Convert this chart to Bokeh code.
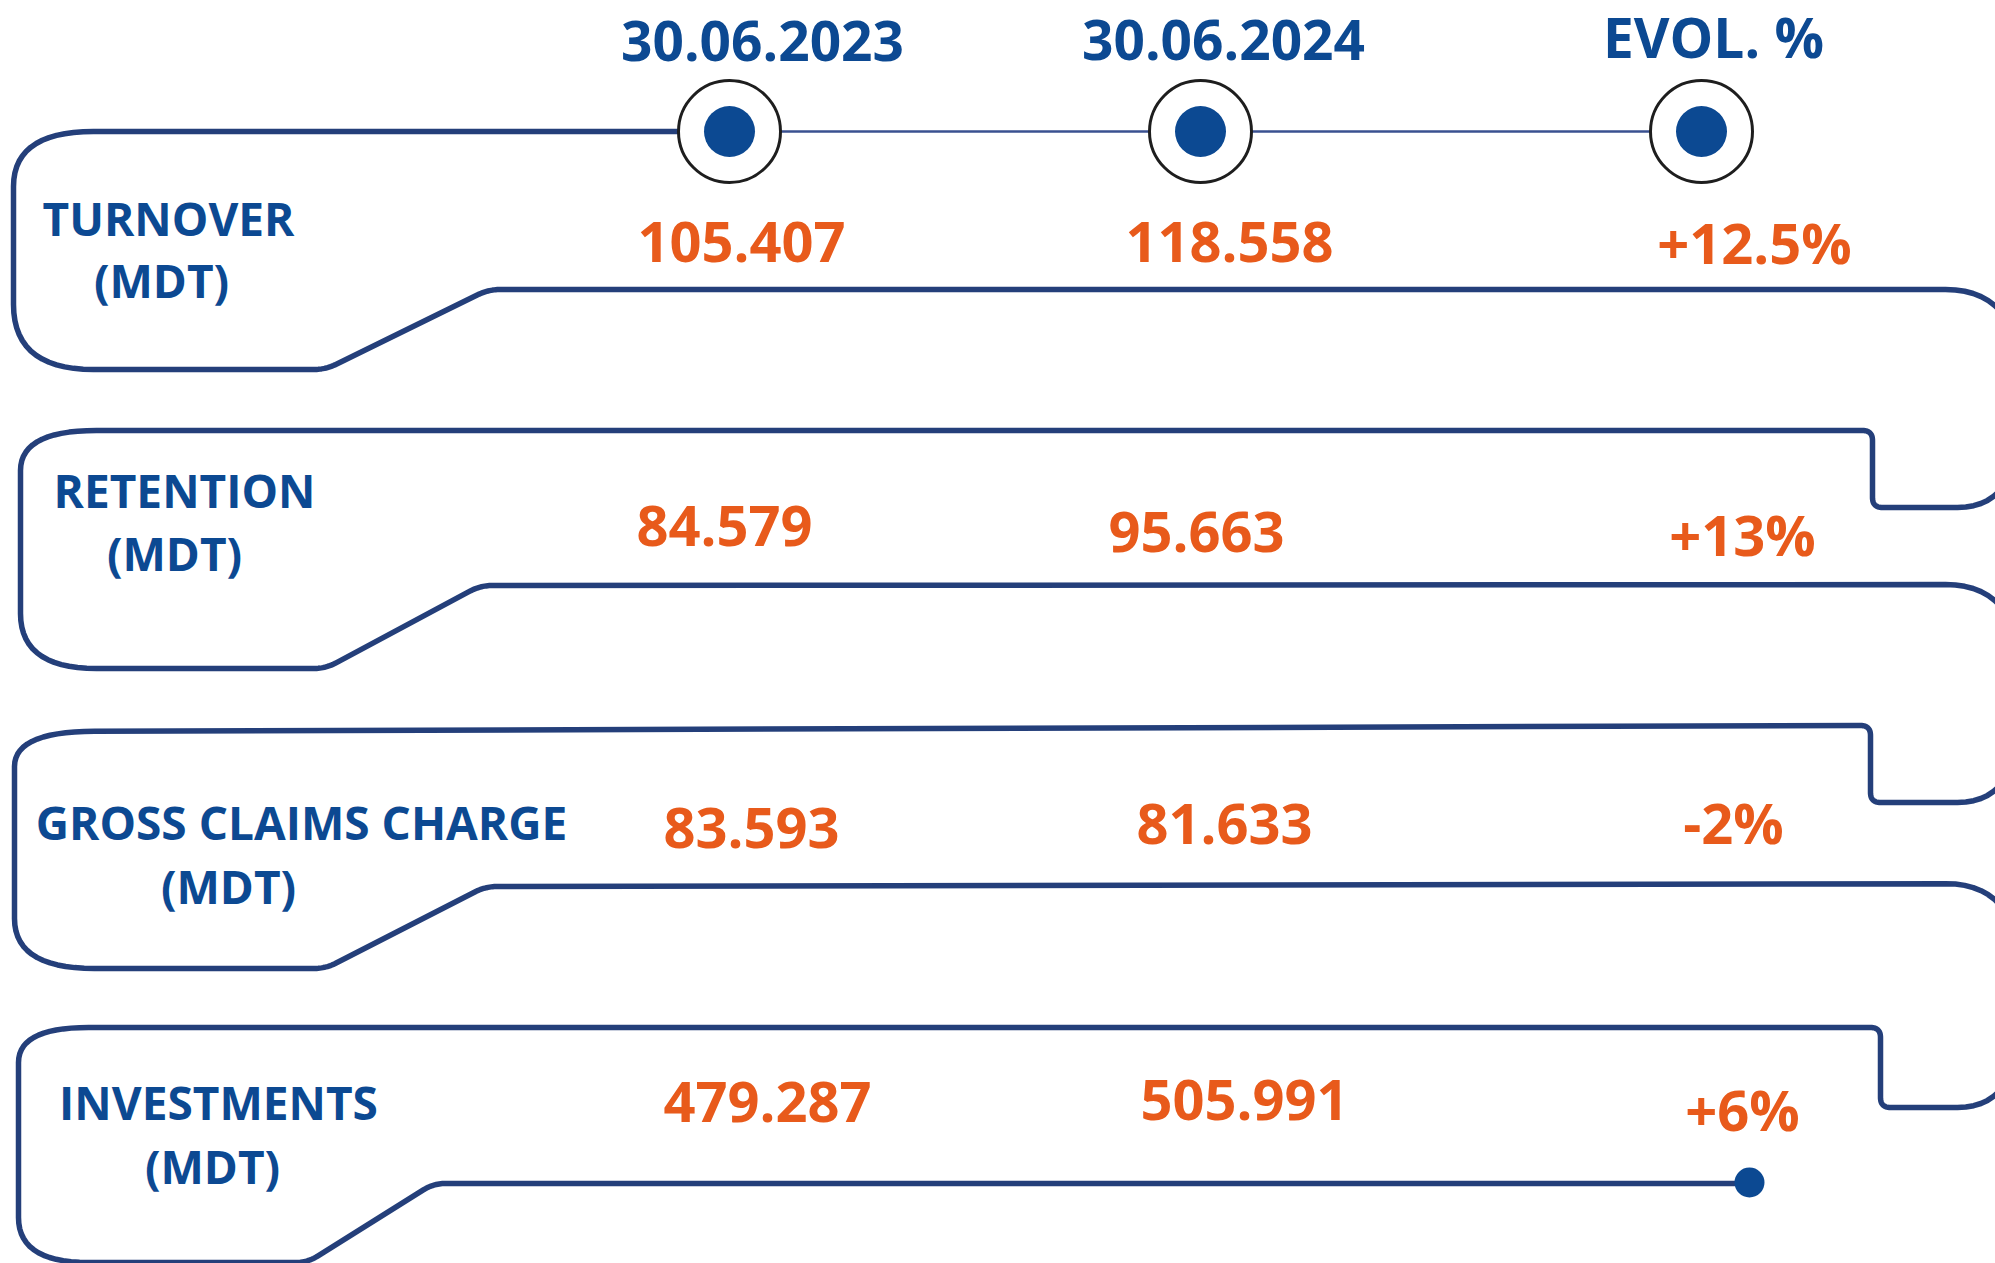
import numpy as np
from bokeh.plotting import figure
from bokeh.models import Range1d, ColumnDataSource
from bokeh.core.properties import value
from bokeh.embed import file_html
from bokeh.resources import INLINE

# ---------------- data ----------------
headers = ["30.06.2023", "30.06.2024", "EVOL. %"]
categories = ["TURNOVER", "RETENTION", "GROSS CLAIMS CHARGE", "INVESTMENTS"]
units = ["(MDT)", "(MDT)", "(MDT)", "(MDT)"]
values_2023 = ["105.407", "84.579", "83.593", "479.287"]
values_2024 = ["118.558", "95.663", "81.633", "505.991"]
evolution = ["+12.5%", "+13%", "-2%", "+6%"]

# ---------------- styling / layout ----------------
NAVY = "#243F7A"
BLUE = "#0C4992"
ORANGE = "#E85A1B"
FONT = value("Open Sans")

W, H = 1995, 1263
p = figure(width=W, height=H, output_backend="svg", toolbar_location=None,
           x_range=Range1d(0, W), y_range=Range1d(H, 0),
           min_border=0, background_fill_color="white", border_fill_color="white")
p.axis.visible = False
p.grid.visible = False
p.outline_line_color = None


def rounded_path(pts, cuts, n=16):
    xs, ys = [pts[0][0]], [pts[0][1]]
    t = np.linspace(0, 1, n)
    for i in range(1, len(pts) - 1):
        prv = np.array(pts[i - 1], float)
        cur = np.array(pts[i], float)
        nxt = np.array(pts[i + 1], float)
        d_in, d_out = cuts[i - 1]
        v1 = prv - cur
        v2 = nxt - cur
        L1, L2 = np.hypot(*v1), np.hypot(*v2)
        a = cur + v1 / L1 * min(d_in, L1 / 2)
        b = cur + v2 / L2 * min(d_out, L2 / 2)
        bx = (1 - t) ** 2 * a[0] + 2 * (1 - t) * t * cur[0] + t ** 2 * b[0]
        by = (1 - t) ** 2 * a[1] + 2 * (1 - t) * t * cur[1] + t ** 2 * b[1]
        xs.extend(bx.tolist())
        ys.extend(by.tolist())
    xs.append(pts[-1][0])
    ys.append(pts[-1][1])
    return xs, ys


# circle positions (header columns)
col_x = [729, 1200, 1701]
top_y = 131

# snake outline vertices
pts = [
    (677, 131),
    (13, 131), (13, 369), (325, 369), (488, 289),
    (2022, 289), (2022, 507), (1872, 507), (1872, 430),
    (20, 430), (20, 668), (325, 668), (480, 585),
    (2022, 584), (2022, 802), (1870, 802), (1870, 725),
    (14, 731), (14, 968), (325, 968), (485, 886),
    (2022, 883), (2022, 1107), (1880, 1107), (1880, 1027),
    (18, 1027), (18, 1262), (307, 1262), (433, 1183),
    (1749, 1183),
]
cuts = [
    (80, 55), (65, 80), (12, 12), (12, 12),
    (77, 100), (100, 65), (10, 10), (10, 10),
    (76, 40), (55, 76), (12, 12), (12, 12),
    (77, 100), (100, 65), (10, 10), (10, 10),
    (80, 35), (50, 80), (12, 12), (12, 12),
    (77, 100), (100, 65), (10, 10), (10, 10),
    (70, 35), (45, 70), (12, 12), (12, 12),
]
sx, sy = rounded_path(pts, cuts)
p.line(sx, sy, line_color=NAVY, line_width=5.5, line_join="round", line_cap="round")

# thin connector between header circles
p.line([col_x[0], col_x[-1]], [top_y, top_y], line_color="#3A5190", line_width=2.5)

# header circles
circ = ColumnDataSource(dict(x=col_x, y=[top_y] * 3))
p.scatter("x", "y", source=circ, marker="circle", size=102, fill_color="white",
          line_color="#1E1E1E", line_width=3)
p.scatter("x", "y", source=circ, marker="circle", size=51, fill_color=BLUE, line_color=None)

# end dot
p.scatter([1749], [1182], marker="circle", size=30, fill_color=BLUE, line_color=None)

# headers
hdr = ColumnDataSource(dict(x=[762, 1223, 1713], y=[40, 39, 36], t=headers))
p.text("x", "y", text="t", source=hdr, text_font=FONT, text_font_style="bold",
       text_font_size="55px", text_color=BLUE, text_align="center", text_baseline="middle")

# category labels
lab = ColumnDataSource(dict(x=[168, 184, 301, 218], y=[217, 489, 821, 1101], t=categories))
p.text("x", "y", text="t", source=lab, text_font=FONT, text_font_style="bold",
       text_font_size="46px", text_color=BLUE, text_align="center", text_baseline="middle")
un = ColumnDataSource(dict(x=[161, 174, 228, 212], y=[279, 552, 885, 1165], t=units))
p.text("x", "y", text="t", source=un, text_font=FONT, text_font_style="bold",
       text_font_size="46px", text_color=BLUE, text_align="center", text_baseline="middle")

# values
v1 = ColumnDataSource(dict(x=[741, 724, 751, 767], y=[241, 525, 827, 1101], t=values_2023))
v2 = ColumnDataSource(dict(x=[1229, 1196, 1224, 1244], y=[241, 531, 823, 1099], t=values_2024))
v3 = ColumnDataSource(dict(x=[1754, 1742, 1733, 1742], y=[241, 533, 821, 1108], t=evolution))
for src in (v1, v2, v3):
    p.text("x", "y", text="t", source=src, text_font=FONT, text_font_style="bold",
           text_font_size="56px", text_color=ORANGE, text_align="center", text_baseline="middle")

open("out.html", "w").write(file_html(p, INLINE))
